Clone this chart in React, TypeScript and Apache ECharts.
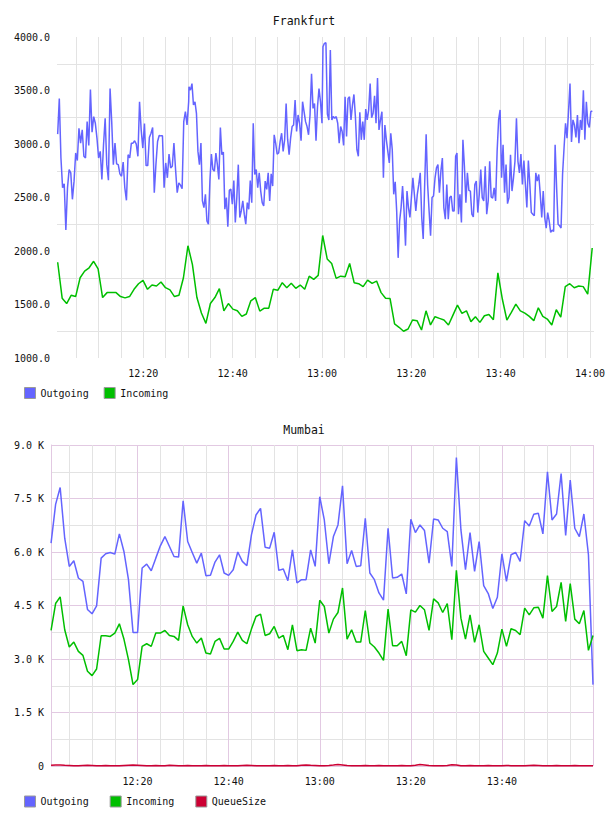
import React, { useEffect, useRef } from 'react';
import * as echarts from 'echarts';

// ---------- data (time axis in minutes after 12:00) ----------
const fraOutgoingSpans = [[0.82, 30.15], [30.22, 60.0], [60.22, 89.92], [90.22, 120.52]];
const fraOutgoing1 = [
  3092, 3426, 2869, 2591, 2628, 2196, 2591, 2761, 2730, 2483,
  2653, 2916, 2845, 3147, 3008, 3132, 2885, 2869, 3209, 2987,
  3509, 3110, 3256, 3194, 3055, 2869, 2931, 2669, 2993, 3240,
  2807, 2662, 3518, 3209, 2807, 3008, 2814, 2807, 2721, 2699,
  2832, 2591, 2474, 2900, 2869, 3008, 3008, 3030, 2999, 2885,
  3395, 3132, 2962, 3191, 2798, 2798, 3061, 3101, 3154, 2545,
  2807, 3024, 3079, 3076, 3076, 2591, 2823, 2684, 2906, 2777,
  2792, 3008, 2761, 2545, 2637, 2616, 2582, 3209, 3302, 3178,
  3395,
];
const fraOutgoing2 = [
  3534, 3503, 3565, 3364, 3395, 3287, 2931, 2807, 3008, 2468,
  2406, 2530, 2282, 2251, 2653, 2906, 2761, 2746, 2916, 2807,
  2669, 3154, 2900, 2925, 2390, 2499, 2227, 2567, 2579, 2437,
  2659, 2267, 2499, 2807, 2313, 2375, 2468, 2344, 2251, 2452,
  2390, 2659, 2452, 3194, 2715, 2761, 2591, 2730, 2560, 2452,
  2421, 2653, 2576, 2730, 2468, 2721, 2607, 3086, 3008, 2906,
  2916, 3024, 3101, 2931, 3039, 3379, 3045, 2900, 3055, 3163,
  3178, 3410, 3117, 3271, 3194, 3030, 3395, 3302, 3209, 3163,
  3086, 3271, 3657, 3333, 3379, 3030, 3348, 3518, 3395, 3194,
];
const fraOutgoing3 = [
  3909, 3941, 3947, 3280, 3224, 3878, 3225, 3256, 3240, 3256,
  3194, 3008, 3163, 3117, 2987, 3441, 3070, 3426, 3441, 3225,
  3364, 3463, 3256, 2947, 2885, 3296, 3039, 3209, 3039, 3327,
  3225, 3318, 3565, 3246, 3287, 3450, 3194, 3617, 3132, 3225,
  3302, 2684, 3178, 3039, 2931, 2823, 3101, 2947, 2530, 2647,
  2375, 1936, 2282, 2406, 2607, 2375, 2050, 2560, 2406, 2313,
  2499, 2684, 2530, 2375, 2530, 2622, 2730, 2313, 2112, 2622,
  3092, 2622, 2375, 2143, 2499, 2514, 2678, 2777, 2807, 2545,
  2746, 2869, 2406, 2298, 2622, 2298, 2499, 2514, 2375, 2375,
  2885,
];
const fraOutgoing4 = [
  2916, 2344, 2530, 2267, 3039, 2792, 2452, 2730, 2567, 2560,
  2344, 2319, 2622, 2653, 2359, 2530, 2761, 2499, 2468, 2792,
  2344, 2468, 2838, 2505, 2493, 2591, 2468, 2931, 3225, 3318,
  2684, 2993, 2545, 2807, 2443, 2499, 2900, 2560, 2684, 2838,
  3240, 2838, 2730, 2906, 2622, 2845, 2622, 2406, 2845, 2622,
  2359, 2344, 2329, 2730, 2653, 2715, 2530, 2313, 2560, 2313,
  2214, 2359, 2282, 2174, 2196, 2183, 2993, 2591, 2251, 2236,
  2214, 2715, 2962, 3194, 3055, 3302, 3565, 3018, 3225, 3178,
  3061, 3271, 3008, 3225, 3132, 3503, 3039, 3395, 3194, 3154,
  3302, 3308,
];
const fraIncomingSpan = [0.82, 120.5];
const fraIncoming = [
  1895, 1559, 1509, 1586, 1574, 1750, 1812, 1843, 1904, 1833,
  1565, 1611, 1611, 1611, 1574, 1562, 1574, 1642, 1694, 1725,
  1642, 1682, 1673, 1710, 1657, 1636, 1574, 1586, 1750, 2049,
  1873, 1565, 1420, 1324, 1509, 1565, 1648, 1441, 1509, 1457,
  1441, 1389, 1411, 1534, 1565, 1438, 1466, 1466, 1642, 1633,
  1704, 1657, 1698, 1651, 1682,
  1642, 1765, 1735, 1772, 2145, 1926, 1883, 1744, 1765, 1759,
  1883, 1704, 1694, 1667, 1728, 1698, 1719, 1611, 1559, 1556,
  1318, 1287, 1250, 1271, 1355, 1349, 1262, 1441, 1309, 1386,
  1370, 1355, 1309, 1401, 1494, 1417, 1441, 1340, 1386, 1333,
  1395, 1407, 1358, 1796, 1549, 1355, 1426, 1503, 1441, 1420,
  1389, 1349, 1469, 1389, 1364, 1309, 1451, 1383, 1667, 1694,
  1657, 1673, 1667, 1596, 2028,
];

const mumSpan = [1, 120];
const mumOutgoing = [
  6247, 7335, 7810, 6387, 5596, 5754, 5271, 5178, 4390, 4267,
  4490, 5828, 5950, 5987, 5940, 6508, 6015, 5224, 3745, 3745,
  5550, 5661, 5475, 5828, 6173, 6433, 6154, 5875, 5857, 7438,
  6294, 5987, 5689, 5968, 5336, 5345, 5717, 5922, 5410, 5345,
  5503, 6000, 5736, 5615, 6480, 7038, 7224, 6136, 6108, 6554,
  5485, 5522, 5196, 6061, 5131, 5224,
  5224, 6061, 5596, 7550, 6898, 5670, 6433, 6759, 7856, 5670,
  6043, 5596, 5615, 6945, 5410, 5224, 4852, 4648, 6666, 5271,
  5289, 5382, 4824, 6917, 6545, 6759, 6601, 5689, 6926, 6898,
  6666, 6573, 5596, 8647, 6619, 5503, 6545, 5457, 6294, 5057,
  4834, 4415, 4731, 5950, 5178, 5922, 5987, 5736, 6880, 6731,
  7056, 7084, 6508, 8247, 6898, 7066, 8201, 6461, 8014, 6666,
  6433, 7066, 5922, 2282,
];
const mumIncoming = [
  3801, 4555, 4741, 3820, 3335, 3475, 3214, 3102, 2655, 2533,
  2720, 3652, 3652, 3633, 3726, 3987, 3559, 2981, 2282, 2422,
  3354, 3428, 3354, 3726, 3726, 3801, 3661, 3633, 3521, 4491,
  3959, 3633, 3447, 3587, 3167, 3139, 3494, 3577, 3279, 3279,
  3494, 3754, 3521, 3428, 3838, 4192, 4258, 3661, 3708, 3913,
  3587, 3661, 3261, 3959, 3233, 3261,
  3242, 3866, 3447, 4648, 4472, 3726, 4118, 4304, 4992, 3559,
  3820, 3475, 3475, 4360, 3447, 3335, 3167, 2963, 4397, 3372,
  3372, 3494, 3093, 4379, 4314, 4500, 4379, 3801, 4685, 4573,
  4304, 4555, 3540, 5485, 4146, 3559, 4239, 3466, 3959, 3214,
  3027, 2841, 3167, 3838, 3354, 3848, 3801, 3680, 4425, 4239,
  4434, 4453, 4146, 5336, 4332, 4472, 5150, 4053, 5113, 4118,
  3987, 4360, 3242, 3661,
];
const mumQueueSize = [
  20, 25, 30, 20, 15, 10, 10, 15, 20, 15, 10, 10, 15, 10, 10, 10, 15, 20, 25, 20,
  15, 10, 10, 15, 10, 10, 20, 15, 10, 10, 15, 10, 10, 10, 15, 10, 10, 10, 15, 10,
  10, 10, 15, 20, 15, 10, 10, 10, 10, 15, 10, 10, 15, 10, 10, 20, 30, 20, 15, 10,
  10, 15, 25, 40, 30, 15, 10, 10, 10, 15, 10, 10, 15, 10, 10, 10, 10, 15, 10, 10,
  20, 40, 30, 15, 10, 10, 10, 15, 35, 30, 10, 10, 15, 10, 10, 10, 15, 10, 10, 10,
  15, 10, 10, 10, 10, 15, 20, 15, 10, 10, 10, 15, 10, 10, 10, 15, 10, 10, 10, 10,
];

const fraTitle = 'Frankfurt';
const mumTitle = 'Mumbai';
const fraLegend = ['Outgoing', 'Incoming'];
const mumLegend = ['Outgoing', 'Incoming', 'QueueSize'];
const fraYRange = [1000, 4000];
const mumYRange = [0, 9000];

// ---------- helpers ----------
function spread(values: number[], span: number[]) {
  const n = values.length;
  return values.map((v, i) => [span[0] + ((span[1] - span[0]) * i) / (n - 1), v]);
}
function clock(m: number) {
  const total = Math.round(m);
  const h = 12 + Math.floor(total / 60);
  const mm = total % 60;
  return `${h}:${mm < 10 ? '0' : ''}${mm}`;
}

const FONT = '"DejaVu Sans Mono", monospace';
const BLUE = '#6464ff';
const GREEN = '#00bf00';
const RED = '#cc0033';
const GREY = '#e3e3e3';
const PURPLE = '#e2c9e2';

export default function App() {
  const ref = useRef<HTMLDivElement>(null);
  useEffect(() => {
    const chart = echarts.init(ref.current!, null, { renderer: 'svg' });
    const fraOut = [fraOutgoing1, fraOutgoing2, fraOutgoing3, fraOutgoing4]
      .map((arr, i) => spread(arr, fraOutgoingSpans[i]))
      .flat();
    const labelStyle = { fontFamily: FONT, fontSize: 10, color: '#111' };
    const legendBase = {
      left: 24,
      padding: 0,
      icon: 'rect',
      itemWidth: 11,
      itemHeight: 11,
      selectedMode: false,
      textStyle: { fontFamily: FONT, fontSize: 10, color: '#111' },
      itemStyle: { borderColor: '#9a9a9a', borderWidth: 1 },
    };
    const option: any = {
      animation: false,
      backgroundColor: '#fff',
      title: [
        { text: fraTitle, left: 'center', top: 15, padding: 0,
          textStyle: { fontFamily: FONT, fontSize: 11.5, fontWeight: 'normal', color: '#111' } },
        { text: mumTitle, left: 'center', top: 424, padding: 0,
          textStyle: { fontFamily: FONT, fontSize: 11.5, fontWeight: 'normal', color: '#111' } },
      ],
      legend: [
        { ...legendBase, data: fraLegend, top: 387, itemGap: 15 },
        { ...legendBase, data: mumLegend, top: 795.5, itemGap: 21 },
      ],
      grid: [
        { left: 57, top: 37, width: 537, height: 321 },
        { left: 54, top: 37, width: 540, height: 321 },
        { left: 46.5 + 4.554, top: 445, width: 593 - 46.5 - 4.554, height: 321 },
        { left: 46.5, top: 445, width: 593 - 46.5, height: 321 },
      ],
      xAxis: [
        { type: 'value', gridIndex: 0, min: 0.67, max: 120.9, show: false },
        {
          type: 'value', gridIndex: 1, min: 0, max: 120.9, interval: 5,
          axisLine: { show: false }, axisTick: { show: false },
          splitLine: { show: true, showMinLine: false, showMaxLine: false, lineStyle: { color: GREY, width: 1 } },
          axisLabel: { ...labelStyle, margin: 10, formatter: (v: number) => (v > 0 && Math.abs(v % 20) < 1e-6 ? clock(v) : '') },
        },
        { type: 'value', gridIndex: 2, min: 1, max: 120, show: false },
        {
          type: 'value', gridIndex: 3, min: 0, max: 120, interval: 20,
          axisLine: { show: false }, axisTick: { show: false },
          splitLine: { show: true, showMinLine: false, showMaxLine: true, lineStyle: { color: PURPLE, width: 1 } },
          minorTick: { show: false, splitNumber: 4 },
          minorSplitLine: { show: true, lineStyle: { color: GREY, width: 1 } },
          axisLabel: { ...labelStyle, margin: 10, formatter: (v: number) => (v > 0 && v < 120 ? clock(v) : '') },
        },
      ],
      yAxis: [
        {
          type: 'value', gridIndex: 0, min: fraYRange[0], max: fraYRange[1], interval: 500,
          axisLine: { show: false }, axisTick: { show: false },
          splitLine: { show: false },
          minorTick: { show: false, splitNumber: 2 },
          minorSplitLine: { show: true, lineStyle: { color: GREY, width: 1 } },
          axisLabel: { ...labelStyle, margin: 7, formatter: (v: number) => v.toFixed(1) },
        },
        { type: 'value', gridIndex: 1, min: 0, max: 1, show: false },
        {
          type: 'value', gridIndex: 2, min: mumYRange[0], max: mumYRange[1], interval: 1500,
          axisLine: { show: true, lineStyle: { color: PURPLE, width: 1 } }, axisTick: { show: false },
          splitLine: { show: true, lineStyle: { color: PURPLE, width: 1 } },
          minorTick: { show: false, splitNumber: 2 },
          minorSplitLine: { show: true, lineStyle: { color: GREY, width: 1 } },
          axisLabel: { ...labelStyle, margin: 7, formatter: (v: number) => (v === 0 ? '0' : (v / 1000).toFixed(1) + ' K') },
        },
        { type: 'value', gridIndex: 3, min: 0, max: 1, show: false },
      ],
      series: [
        { name: 'Outgoing', type: 'line', xAxisIndex: 0, yAxisIndex: 0, data: fraOut,
          showSymbol: false, color: BLUE, lineStyle: { color: BLUE, width: 1.5 } },
        { name: 'Incoming', type: 'line', xAxisIndex: 0, yAxisIndex: 0, data: spread(fraIncoming, fraIncomingSpan),
          showSymbol: false, color: GREEN, lineStyle: { color: GREEN, width: 1.5 } },
        { name: 'Outgoing', type: 'line', xAxisIndex: 2, yAxisIndex: 2, data: spread(mumOutgoing, mumSpan),
          showSymbol: false, color: BLUE, lineStyle: { color: BLUE, width: 1.5 } },
        { name: 'Incoming', type: 'line', xAxisIndex: 2, yAxisIndex: 2, data: spread(mumIncoming, mumSpan),
          showSymbol: false, color: GREEN, lineStyle: { color: GREEN, width: 1.5 } },
        { name: 'QueueSize', type: 'line', xAxisIndex: 2, yAxisIndex: 2, data: spread(mumQueueSize, mumSpan),
          showSymbol: false, clip: false, color: RED, lineStyle: { color: RED, width: 1.5 } },
      ],
    };
    chart.setOption(option);
    return () => chart.dispose();
  }, []);
  return <div ref={ref} style={{ position: 'absolute', left: 0, top: 0, width: 608, height: 816 }} />;
}
